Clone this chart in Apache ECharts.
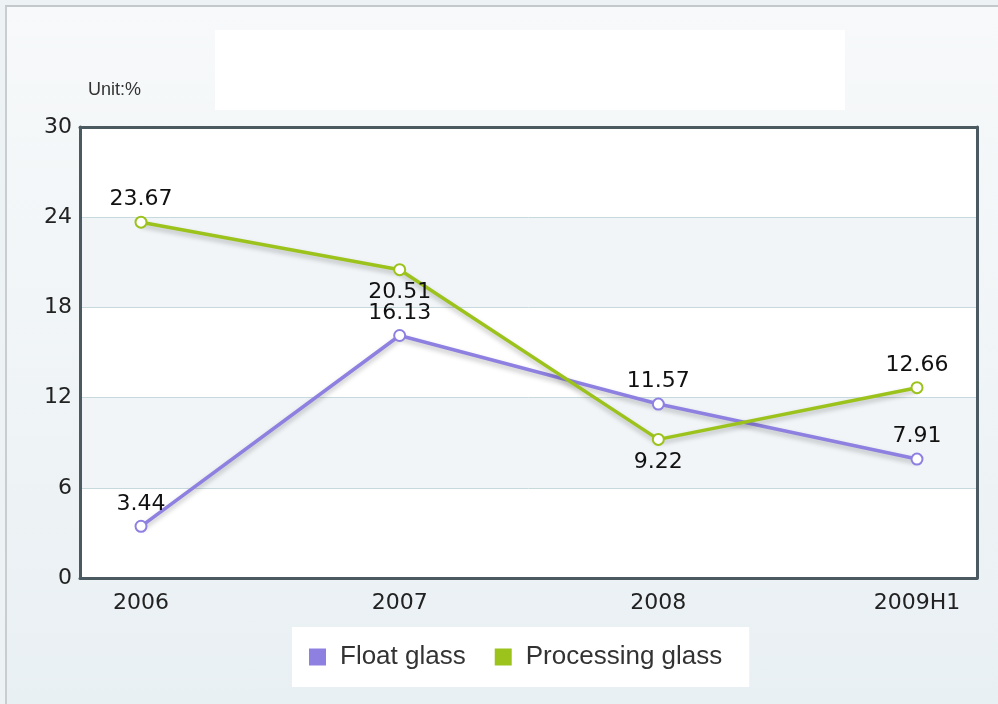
<!DOCTYPE html>
<html>
<head>
<meta charset="utf-8">
<script src="https://cdn.jsdelivr.net/npm/echarts@6/dist/echarts.min.js"></script>
<style>
    html, body { margin: 0; padding: 0; }
    body { width: 998px; height: 704px; background: #edf2f5; position: relative; overflow: hidden; }
    .frame { position: absolute; left: 5px; top: 5px; right: 0; bottom: 0; border-top: 2px solid #c3c8cb; border-left: 2px solid #c9cdd0;
        background: linear-gradient(#f7f9fa, #e9f0f3); }
    .cap { position: absolute; left: 215px; top: 30px; width: 630px; height: 80px; background: #fff; }
    #main { position: absolute; left: 0; top: 0; width: 998px; height: 704px; }
</style>
</head>
<body>
<div class="frame"></div>
<div class="cap"></div>
<div id="main"></div>
<script>
var years = ['2006', '2007', '2008', '2009H1']
var floatGlass = [3.44, 16.13, 11.57, 7.91]
var processingGlass = [23.67, 20.51, 9.22, 12.66]
var yTicks = { min: 0, max: 30, step: 6 }

var purple = '#8e80e0'
var green = '#9cc21c'
var frameColor = '#4b5a60'
// 数字字体
var numFont = 'DejaVu Sans'

var myChart = echarts.init(document.getElementById('main'));

var frameLine = { show: true, onZero: false, lineStyle: { color: frameColor, width: 3 } }

var option = {
    backgroundColor: 'transparent',
    title: {
        text: 'Unit:%',
        left: 83,
        top: 76,
        textStyle: {
            fontFamily: 'Liberation Sans',
            fontSize: 18,
            fontWeight: 'normal',
            color: '#333'
        }
    },
    legend: {
        top: 627,
        left: 292,
        itemWidth: 17,
        itemHeight: 17,
        itemGap: 29,
        icon: 'rect',
        backgroundColor: '#fff',
        padding: [17, 27, 17, 17],
        textStyle: {
            fontFamily: 'Liberation Sans',
            fontSize: 26,
            color: '#333',
            padding: [0, 0, 0, 9]
        },
        data: [
            { name: 'Float glass', itemStyle: { color: purple, borderWidth: 0 } },
            { name: 'Processing glass', itemStyle: { color: green, borderWidth: 0 } }
        ]
    },
    grid: [
        // 外框
        {
            left: 80, top: 127, width: 897, height: 451
        },
        {
            left: 141, top: 127, width: 776, height: 451
        }
    ],
    xAxis: [
        {
            gridIndex: 0, type: 'category', data: years, z: 5,
            axisLine: frameLine, axisTick: { show: false }, axisLabel: { show: false }
        },
        {
            gridIndex: 1, type: 'category', data: years, boundaryGap: false,
            axisLine: { show: false }, axisTick: { show: false },
            axisLabel: { fontFamily: numFont, fontSize: 22, color: '#222', margin: 14 }
        },
        {
            gridIndex: 0, type: 'category', data: years, position: 'top', z: 5,
            axisLine: frameLine, axisTick: { show: false }, axisLabel: { show: false }
        }
    ],
    yAxis: [
        {
            gridIndex: 0, type: 'value', min: yTicks.min, max: yTicks.max, interval: yTicks.step,
            axisLine: frameLine,
            axisTick: { show: false },
            axisLabel: { fontFamily: numFont, fontSize: 22, color: '#222', margin: 8 },
            splitLine: { lineStyle: { color: '#c6dadd' } },
            splitArea: { show: true, areaStyle: { color: ['#ffffff', '#f1f5f7'] } }
        },
        {
            gridIndex: 1, type: 'value', min: yTicks.min, max: yTicks.max, interval: yTicks.step,
            axisLine: { show: false }, axisTick: { show: false }, axisLabel: { show: false },
            splitLine: { show: false }
        },
        {
            gridIndex: 0, type: 'value', min: yTicks.min, max: yTicks.max, interval: yTicks.step, position: 'right', z: 5,
            axisLine: frameLine, axisTick: { show: false }, axisLabel: { show: false },
            splitLine: { show: false }
        }
    ],
    series: [
        {
            name: 'Float glass',
            type: 'line',
            xAxisIndex: 1, yAxisIndex: 1,
            data: floatGlass,
            color: purple,
            symbol: 'circle',
            symbolSize: 11,
            itemStyle: { color: '#fff', borderColor: purple, borderWidth: 2 },
            lineStyle: { width: 3.5, color: purple, shadowColor: 'rgba(0,0,0,0.25)', shadowBlur: 5, shadowOffsetY: 3 },
            label: { show: true, position: 'top', distance: 5, fontFamily: numFont, fontSize: 22, color: '#111' }
        },
        {
            name: 'Processing glass',
            type: 'line',
            xAxisIndex: 1, yAxisIndex: 1,
            data: processingGlass.map(function (v, i) {
                // 20.51 和 9.22 标签在下方
                return i === 1 || i === 2 ? { value: v, label: { position: 'bottom' } } : v
            }),
            color: green,
            symbol: 'circle',
            symbolSize: 11,
            itemStyle: { color: '#fff', borderColor: green, borderWidth: 2 },
            lineStyle: { width: 3.5, color: green, shadowColor: 'rgba(0,0,0,0.25)', shadowBlur: 5, shadowOffsetY: 3 },
            label: { show: true, position: 'top', distance: 5, fontFamily: numFont, fontSize: 22, color: '#111' }
        }
    ]
};
myChart.setOption(option);
</script>
</body>
</html>
